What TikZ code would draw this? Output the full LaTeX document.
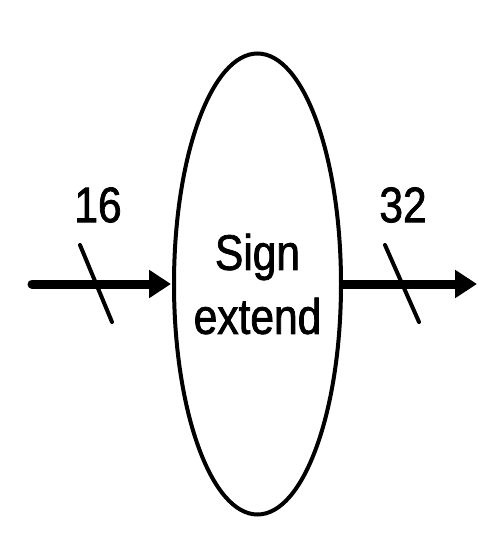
\documentclass[tikz,border=0pt]{standalone}
\usepackage{fontspec}
\usepackage{tikz}
\usetikzlibrary{arrows.meta,shapes.geometric}
\newfontfamily\narrowsans{Liberation Sans}[FakeStretch=0.85,FakeBold=1.5]
\definecolor{inkblack}{HTML}{000000}
\begin{document}
\begin{tikzpicture}[x=1pt,y=-1pt,
    bus/.style={inkblack,line width=9pt,-{Triangle[length=22pt,width=27pt]}},
    buswidth/.style={inkblack,line width=4pt},
    widthlabel/.style={inkblack,inner sep=0pt,font=\narrowsans\fontsize{50}{64}\selectfont}]
    \useasboundingbox (0,0) rectangle (486,536);
    % the sign-extension unit
    \node[ellipse,draw=inkblack,line width=4pt,minimum width=167pt,minimum height=461pt,
      inner sep=0pt] (ext) at (257.5,284) {};
    \node[widthlabel,align=center] (extlabel) at (ext.center) {Sign\\extend};

    % 16-bit input bus
    \coordinate (inL) at (32,284);
    \draw[bus,line cap=round,shorten >=1pt] (inL) -- (ext.west);
    \coordinate (s1a) at (80,245);
    \coordinate (s1b) at (112,322);
    \draw[buswidth,line cap=round] (s1a) -- (s1b);
    \node[widthlabel] (w16) at (98,205) {16};

    % 32-bit output bus
    \coordinate (outR) at (477,284);
    \draw[bus] (ext.east) -- (outR);
    \coordinate (s2a) at (385,245);
    \coordinate (s2b) at (419,322);
    \draw[buswidth,line cap=round] (s2a) -- (s2b);
    \node[widthlabel] (w32) at (403,205) {32};
  \end{tikzpicture}
\end{document}
